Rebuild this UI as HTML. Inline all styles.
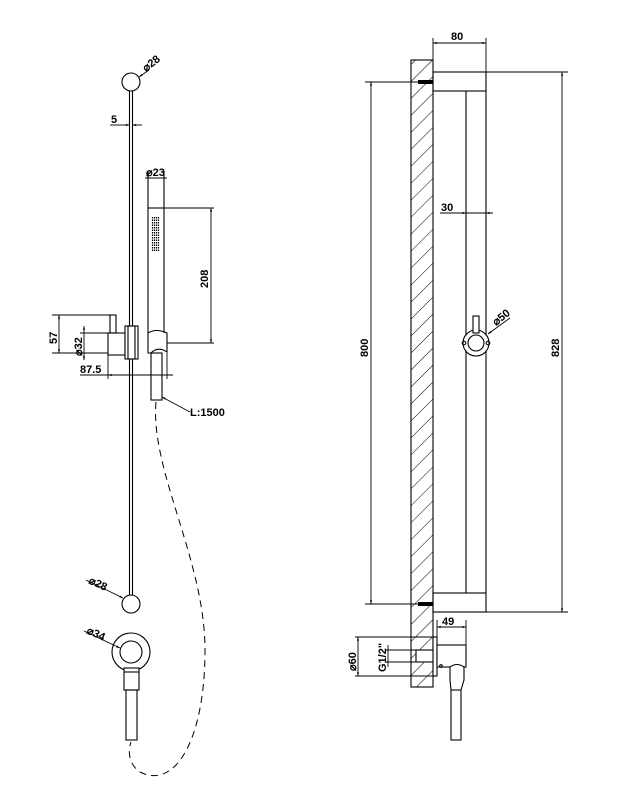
<!DOCTYPE html>
<html><head><meta charset="utf-8"><style>
html,body{margin:0;padding:0;background:#fff;}
svg{display:block;}
text{font-family:"Liberation Sans",sans-serif;font-weight:bold;font-size:11px;fill:#000;}
</style></head><body>
<svg width="624" height="811" viewBox="0 0 624 811" xmlns="http://www.w3.org/2000/svg">
<defs>
<marker id="a" viewBox="0 0 10 10" refX="10" refY="5" markerWidth="6" markerHeight="4" orient="auto-start-reverse"><path d="M0,2 L10,5 L0,8 z" fill="#000"/></marker>
<pattern id="h" width="12" height="12" patternUnits="userSpaceOnUse" patternTransform="rotate(45)">
<line x1="0" y1="0" x2="0" y2="12" stroke="#000" stroke-width="1"/></pattern>
</defs>
<g fill="none" stroke="#000" stroke-width="1.1">
<line x1="129.5" y1="91" x2="129.5" y2="595"/>
<line x1="132.5" y1="91" x2="132.5" y2="595"/>
<circle cx="131" cy="82" r="9" fill="#fff"/>
<circle cx="131" cy="604" r="9" fill="#fff"/>
<line x1="139" y1="77" x2="149" y2="70" marker-start="url(#a)" stroke-width="0.9"/>
<line x1="110" y1="125" x2="120" y2="125" stroke-width="0.9"/>
<line x1="120" y1="125" x2="129.5" y2="125" marker-end="url(#a)" stroke-width="0.9"/>
<line x1="142" y1="125" x2="132.5" y2="125" marker-end="url(#a)" stroke-width="0.9"/>
<line x1="148" y1="171" x2="148" y2="333"/>
<line x1="164" y1="171" x2="164" y2="333"/>
<line x1="145" y1="178" x2="167" y2="178" stroke-width="0.9"/>
<line x1="148" y1="208" x2="164" y2="208"/>
<line x1="164" y1="208" x2="214" y2="208" stroke-width="0.9"/>
<line x1="211" y1="208" x2="211" y2="343" marker-start="url(#a)" marker-end="url(#a)" stroke-width="0.9"/>
<line x1="167" y1="343" x2="214" y2="343" stroke-width="0.9"/>
<path d="M148,333 Q156,328 167,333 L167,352 Q158,346 151,353 L148,353 Z"/>
<rect x="151" y="353" width="11" height="47"/>
<rect x="108" y="333" width="17" height="22"/>
<rect x="110" y="315" width="6" height="18"/>
<rect x="125" y="326" width="13" height="33" fill="#fff"/>
<rect x="128" y="326" width="7" height="33"/>
<line x1="52" y1="315" x2="110" y2="315" stroke-width="0.9"/>
<line x1="52" y1="353" x2="108" y2="353" stroke-width="0.9"/>
<line x1="59" y1="315" x2="59" y2="353" marker-start="url(#a)" marker-end="url(#a)" stroke-width="0.9"/>
<line x1="80" y1="333" x2="108" y2="333" stroke-width="0.9"/>
<line x1="84" y1="326" x2="84" y2="360" marker-start="url(#a)" marker-end="url(#a)" stroke-width="0.9"/>
<line x1="108" y1="355" x2="108" y2="379" stroke-width="0.9"/>
<line x1="167" y1="353" x2="167" y2="379" stroke-width="0.9"/>
<line x1="80" y1="375" x2="108" y2="375" stroke-width="0.9"/>
<line x1="108" y1="375" x2="173" y2="375" marker-start="url(#a)" stroke-width="0.9"/>
<line x1="162" y1="397" x2="190" y2="412" marker-start="url(#a)" stroke-width="0.9"/>
<path d="M156,402 C150,470 205,560 205,650 C205,740 175,790 140,772 C128,764 128,750 131,742" stroke-dasharray="7,5" stroke-width="1"/>
<line x1="86" y1="580" x2="123" y2="598" marker-end="url(#a)" stroke-width="0.9"/>
<circle cx="131" cy="652" r="19"/>
<circle cx="131" cy="652" r="11"/>
<line x1="84" y1="631" x2="120" y2="648" marker-end="url(#a)" stroke-width="0.9"/>
<rect x="124" y="668" width="15" height="22" fill="#fff"/>
<line x1="124" y1="672" x2="139" y2="672"/>
<rect x="126" y="690" width="11" height="50"/>

<rect x="411" y="60" width="22" height="627" fill="url(#h)"/>
<rect x="433" y="72" width="53" height="19"/>
<rect x="433" y="593" width="53" height="19"/>
<line x1="466" y1="91" x2="466" y2="593"/>
<line x1="486" y1="91" x2="486" y2="593"/>
<line x1="433" y1="38" x2="433" y2="72" stroke-width="0.9"/>
<line x1="486" y1="38" x2="486" y2="72" stroke-width="0.9"/>
<line x1="433" y1="43" x2="486" y2="43" marker-start="url(#a)" marker-end="url(#a)" stroke-width="0.9"/>
<line x1="365" y1="82" x2="420" y2="82" stroke-width="0.9"/>
<line x1="365" y1="604" x2="420" y2="604" stroke-width="0.9"/>
<line x1="371" y1="82" x2="371" y2="604" marker-start="url(#a)" marker-end="url(#a)" stroke-width="0.9"/>
<line x1="486" y1="72" x2="568" y2="72" stroke-width="0.9"/>
<line x1="486" y1="612" x2="568" y2="612" stroke-width="0.9"/>
<line x1="562" y1="72" x2="562" y2="612" marker-start="url(#a)" marker-end="url(#a)" stroke-width="0.9"/>
<line x1="440" y1="213" x2="493" y2="213" stroke-width="0.9"/>
<line x1="459" y1="213" x2="466" y2="213" marker-end="url(#a)" stroke-width="0.9"/>
<line x1="493" y1="213" x2="486" y2="213" marker-end="url(#a)" stroke-width="0.9"/>
<circle cx="476" cy="343" r="13" fill="#fff"/>
<circle cx="476" cy="343" r="8"/>
<rect x="473" y="316" width="6" height="17" fill="#fff"/>
<circle cx="464" cy="343" r="1.8"/>
<circle cx="488" cy="343" r="1.8"/>
<line x1="510" y1="318" x2="488" y2="334" marker-end="url(#a)" stroke-width="0.9"/>
<line x1="437" y1="620" x2="437" y2="637" stroke-width="0.9"/>
<line x1="466" y1="620" x2="466" y2="645" stroke-width="0.9"/>
<line x1="437" y1="627" x2="466" y2="627" marker-start="url(#a)" marker-end="url(#a)" stroke-width="0.9"/>
<rect x="433" y="637" width="4" height="39" fill="#fff"/>
<rect x="437" y="645" width="29" height="22" fill="#fff"/>
<rect x="416" y="650" width="17" height="12" fill="#fff"/>
<path d="M450,667 Q457,662 464,667 L464,680 L461,690 L451,690 L450,680 Z" fill="#fff"/>
<rect x="451" y="690" width="10" height="50"/>
<circle cx="441" cy="666" r="1.3"/>
<line x1="355" y1="637" x2="433" y2="637" stroke-width="0.9"/>
<line x1="355" y1="676" x2="433" y2="676" stroke-width="0.9"/>
<line x1="358" y1="637" x2="358" y2="676" marker-start="url(#a)" marker-end="url(#a)" stroke-width="0.9"/>
<line x1="385" y1="650" x2="416" y2="650" stroke-width="0.9"/>
<line x1="385" y1="662" x2="416" y2="662" stroke-width="0.9"/>
<line x1="388" y1="645" x2="388" y2="667" stroke-width="0.9"/>
</g>
<rect x="418" y="80" width="15" height="4" fill="#000"/>
<rect x="418" y="602" width="15" height="4" fill="#000"/>
<g stroke="#000" stroke-width="1.2">
<line x1="152.5" y1="217" x2="152.5" y2="252" stroke-dasharray="1.5,1"/>
<line x1="154.5" y1="217" x2="154.5" y2="252" stroke-dasharray="1.5,1"/>
<line x1="156.5" y1="217" x2="156.5" y2="252" stroke-dasharray="1.5,1"/>
<line x1="158.5" y1="217" x2="158.5" y2="252" stroke-dasharray="1.5,1"/>
</g>
<text transform="translate(146,72) rotate(-38)">⌀28</text>
<text x="111" y="123">5</text>
<text x="146" y="176">⌀23</text>
<text transform="translate(208,288) rotate(-90)">208</text>
<text transform="translate(57,344) rotate(-90)">57</text>
<text transform="translate(82,356) rotate(-90)">⌀32</text>
<text x="80" y="373">87.5</text>
<text x="190" y="416">L:1500</text>
<text transform="translate(88,583) rotate(25)">⌀28</text>
<text transform="translate(86,633) rotate(25)">⌀34</text>
<text x="451" y="40">80</text>
<text transform="translate(368,357) rotate(-90)">800</text>
<text transform="translate(559,357) rotate(-90)">828</text>
<text x="441" y="211">30</text>
<text transform="translate(496,326) rotate(-38)">⌀50</text>
<text x="442" y="625">49</text>
<text transform="translate(356,671) rotate(-90)">⌀60</text>
<text transform="translate(386,672) rotate(-90)">G1/2"</text>
</svg>
</body></html>
